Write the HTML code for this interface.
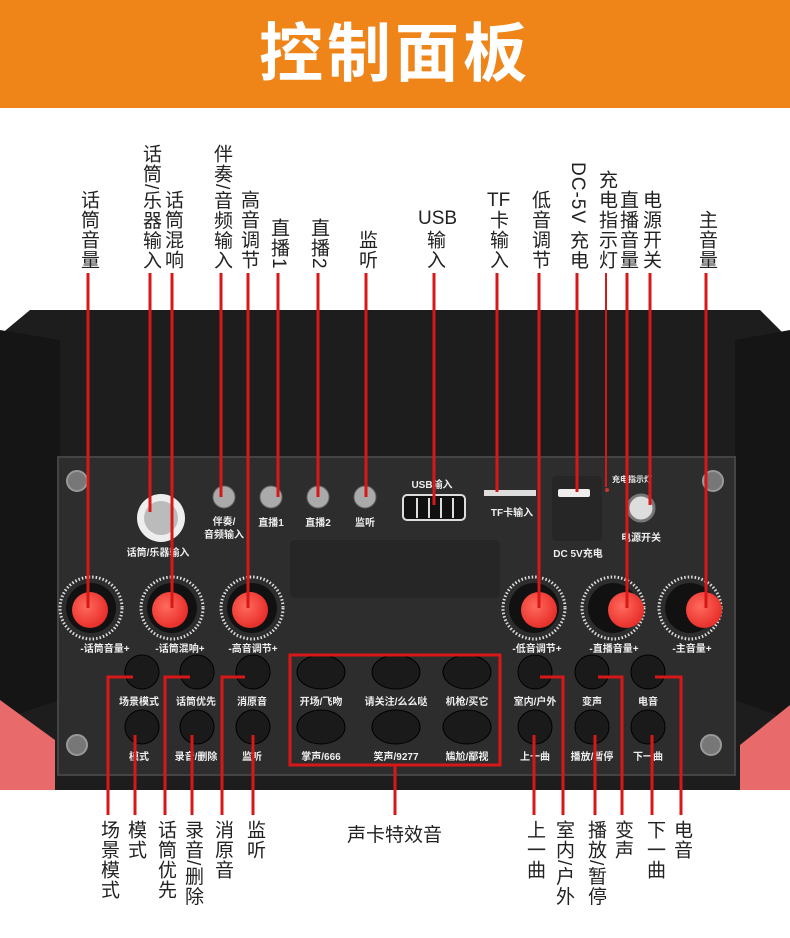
<!DOCTYPE html>
<html><head><meta charset="utf-8"><style>
body{margin:0;width:790px;height:938px;overflow:hidden;background:#fff;position:relative;font-family:"Liberation Sans","Noto Sans CJK SC",sans-serif}
.hd{position:absolute;left:0;top:0;width:790px;height:108px;background:#ef8419;color:#fff;font-size:64px;font-weight:bold;text-align:center;line-height:108px;letter-spacing:4px}
.v{position:absolute;writing-mode:vertical-rl;font-size:19px;line-height:22px;letter-spacing:1px;color:#222;width:22px}
.t{bottom:668px}
.b{top:820px}
.h{position:absolute;font-size:19px;color:#222;white-space:nowrap}
svg{position:absolute;left:0;top:0}
</style></head><body>
<div class="hd">控制面板</div>
<svg width="790" height="938" viewBox="0 0 790 938">
<defs>
<radialGradient id="rk" cx="0.4" cy="0.4" r="0.6"><stop offset="0" stop-color="#ff6a5e"/><stop offset="1" stop-color="#e8302a"/></radialGradient>
</defs>
<path d="M30 310 L760 310 L790 340 L790 790 L0 790 L0 335 Z" fill="#1d1d1d"/>
<path d="M0 330 L60 340 L60 700 L0 720 Z" fill="#151515"/>
<path d="M790 330 L735 340 L735 700 L790 720 Z" fill="#151515"/>
<path d="M0 700 L55 740 L55 790 L0 790 Z" fill="#e86a6a"/>
<path d="M790 705 L740 745 L740 790 L790 790 Z" fill="#e86a6a"/>
<rect x="58" y="457" width="677" height="318" fill="#2d2d2d" stroke="#444" stroke-width="2"/>
<rect x="290" y="540" width="210" height="58" rx="5" fill="#262626"/>
<g fill="#777" stroke="#999" stroke-width="2"><circle cx="77" cy="481" r="10"/><circle cx="77" cy="745" r="10"/><circle cx="713" cy="481" r="10"/><circle cx="711" cy="745" r="10"/></g>
<circle cx="161" cy="518" r="24" fill="#eee"/><circle cx="161" cy="518" r="17" fill="#bbb"/>
<g fill="#aaa" stroke="#666"><circle cx="224" cy="497" r="11"/><circle cx="271" cy="497" r="11"/><circle cx="318" cy="497" r="11"/><circle cx="365" cy="497" r="11"/></g>
<rect x="403" y="495" width="62" height="25" rx="4" fill="#111" stroke="#ddd" stroke-width="2"/>
<g stroke="#ddd" stroke-width="2"><line x1="417" y1="498" x2="417" y2="518"/><line x1="429" y1="498" x2="429" y2="518"/><line x1="441" y1="498" x2="441" y2="518"/><line x1="453" y1="498" x2="453" y2="518"/></g>
<rect x="484" y="490" width="52" height="6" fill="#ddd"/>
<rect x="552" y="476" width="50" height="65" rx="4" fill="#262626"/>
<rect x="558" y="489" width="32" height="8" rx="2" fill="#eee"/>
<circle cx="607" cy="490" r="2" fill="#c33"/>
<circle cx="641" cy="508" r="13" fill="#ddd" stroke="#777" stroke-width="3"/>
<g stroke="#ddd" stroke-width="3" stroke-dasharray="1.5 2" fill="none">
<circle cx="91" cy="608" r="31"/><circle cx="172" cy="608" r="31"/><circle cx="252" cy="608" r="31"/>
<circle cx="534" cy="608" r="31"/><circle cx="613" cy="608" r="31"/><circle cx="690" cy="608" r="31"/></g>
<g fill="#111"><circle cx="91" cy="608" r="25"/><circle cx="172" cy="608" r="25"/><circle cx="252" cy="608" r="25"/><circle cx="534" cy="608" r="25"/><circle cx="613" cy="608" r="25"/><circle cx="690" cy="608" r="25"/></g>
<g fill="url(#rk)"><circle cx="90" cy="610" r="18"/><circle cx="170" cy="610" r="18"/><circle cx="250" cy="610" r="18"/><circle cx="539" cy="610" r="18"/><circle cx="626" cy="610" r="18"/><circle cx="704" cy="610" r="18"/></g>
<g fill="#1a1a1a" stroke="#000" stroke-width="1">
<circle cx="142" cy="672" r="17"/><circle cx="197" cy="672" r="17"/><circle cx="253" cy="672" r="17"/>
<circle cx="142" cy="727" r="17"/><circle cx="197" cy="727" r="17"/><circle cx="253" cy="727" r="17"/>
<ellipse cx="321" cy="672" rx="24" ry="17"/><ellipse cx="396" cy="672" rx="24" ry="17"/><ellipse cx="467" cy="672" rx="24" ry="17"/>
<ellipse cx="321" cy="727" rx="24" ry="17"/><ellipse cx="396" cy="727" rx="24" ry="17"/><ellipse cx="467" cy="727" rx="24" ry="17"/>
<circle cx="535" cy="672" r="17"/><circle cx="592" cy="672" r="17"/><circle cx="648" cy="672" r="17"/>
<circle cx="535" cy="727" r="17"/><circle cx="592" cy="727" r="17"/><circle cx="648" cy="727" r="17"/>
</g>
<g fill="#eee" font-size="10" font-weight="bold" text-anchor="middle" font-family="Liberation Sans,Noto Sans CJK SC,sans-serif">
<text x="158" y="556">话筒/乐器输入</text>
<text x="224" y="525">伴奏/</text><text x="224" y="538">音频输入</text>
<text x="271" y="526">直播1</text><text x="318" y="526">直播2</text><text x="365" y="526">监听</text>
<text x="432" y="488">USB输入</text><text x="512" y="516">TF卡输入</text>
<text x="578" y="557">DC 5V充电</text><text x="632" y="482" font-size="8">充电指示灯</text><text x="641" y="541">电源开关</text>
<text x="105" y="652">-话筒音量+</text><text x="180" y="652">-话筒混响+</text><text x="253" y="652">-高音调节+</text>
<text x="537" y="652">-低音调节+</text><text x="614" y="652">-直播音量+</text><text x="692" y="652">-主音量+</text>
<text x="139" y="705">场景模式</text><text x="196" y="705">话筒优先</text><text x="252" y="705">消原音</text>
<text x="139" y="760">模式</text><text x="196" y="760">录音/删除</text><text x="252" y="760">监听</text>
<text x="321" y="705">开场/飞吻</text><text x="396" y="705">请关注/么么哒</text><text x="467" y="705">机枪/买它</text>
<text x="321" y="760">掌声/666</text><text x="396" y="760">笑声/9277</text><text x="467" y="760">尴尬/鄙视</text>
<text x="535" y="705">室内/户外</text><text x="592" y="705">变声</text><text x="648" y="705">电音</text>
<text x="535" y="760">上一曲</text><text x="592" y="760">播放/暂停</text><text x="648" y="760">下一曲</text>
</g>
<rect x="290" y="655" width="210" height="110" fill="none" stroke="#d71718" stroke-width="3"/>
<g stroke="#d71718" stroke-width="3" fill="none">
<line x1="88" y1="273" x2="88" y2="608"/>
<line x1="150" y1="273" x2="150" y2="512"/>
<line x1="172" y1="273" x2="172" y2="608"/>
<line x1="221" y1="273" x2="221" y2="497"/>
<line x1="248" y1="273" x2="248" y2="608"/>
<line x1="278" y1="273" x2="278" y2="497"/>
<line x1="318" y1="273" x2="318" y2="497"/>
<line x1="366" y1="273" x2="366" y2="497"/>
<line x1="434" y1="273" x2="434" y2="505"/>
<line x1="497" y1="273" x2="497" y2="492"/>
<line x1="539" y1="273" x2="539" y2="608"/>
<line x1="577" y1="273" x2="577" y2="492"/>
<line x1="606" y1="273" x2="606" y2="487" stroke-width="2"/>
<line x1="627" y1="273" x2="627" y2="608"/>
<line x1="650" y1="273" x2="650" y2="505"/>
<line x1="706" y1="273" x2="706" y2="608"/>
<polyline points="133,677 108,677 108,815"/>
<line x1="135" y1="735" x2="135" y2="815"/>
<polyline points="190,677 165,677 165,815"/>
<line x1="192" y1="735" x2="192" y2="815"/>
<polyline points="245,677 222,677 222,815"/>
<line x1="253" y1="735" x2="253" y2="815"/>
<line x1="395" y1="765" x2="395" y2="815"/>
<line x1="534" y1="735" x2="534" y2="815"/>
<polyline points="540,677 563,677 563,815"/>
<line x1="595" y1="735" x2="595" y2="815"/>
<polyline points="598,677 622,677 622,815"/>
<line x1="652" y1="735" x2="652" y2="815"/>
<polyline points="655,677 681,677 681,815"/>
</g>
</svg>
<div class="v t" style="left:77px">话筒音量</div>
<div class="v t" style="left:139px">话筒/乐器输入</div>
<div class="v t" style="left:161px">话筒混响</div>
<div class="v t" style="left:210px">伴奏/音频输入</div>
<div class="v t" style="left:237px">高音调节</div>
<div class="v t" style="left:267px">直播1</div>
<div class="v t" style="left:307px">直播2</div>
<div class="v t" style="left:355px">监听</div>
<div class="h" style="left:418px;top:208px">USB</div>
<div class="v t" style="left:423px">输入</div>
<div class="h" style="left:487px;top:190px">TF</div>
<div class="v t" style="left:486px">卡输入</div>
<div class="v t" style="left:528px">低音调节</div>
<div class="v t" style="left:566px">DC-5V 充电</div>
<div class="v t" style="left:595px">充电指示灯</div>
<div class="v t" style="left:616px">直播音量</div>
<div class="v t" style="left:639px">电源开关</div>
<div class="v t" style="left:695px">主音量</div>
<div class="v b" style="left:97px">场景模式</div>
<div class="v b" style="left:124px">模式</div>
<div class="v b" style="left:154px">话筒优先</div>
<div class="v b" style="left:181px">录音/删除</div>
<div class="v b" style="left:211px">消原音</div>
<div class="v b" style="left:243px">监听</div>
<div class="h" style="left:347px;top:820px">声卡特效音</div>
<div class="v b" style="left:523px">上一曲</div>
<div class="v b" style="left:552px">室内/户外</div>
<div class="v b" style="left:584px">播放/暂停</div>
<div class="v b" style="left:611px">变声</div>
<div class="v b" style="left:643px">下一曲</div>
<div class="v b" style="left:670px">电音</div>
</body></html>
